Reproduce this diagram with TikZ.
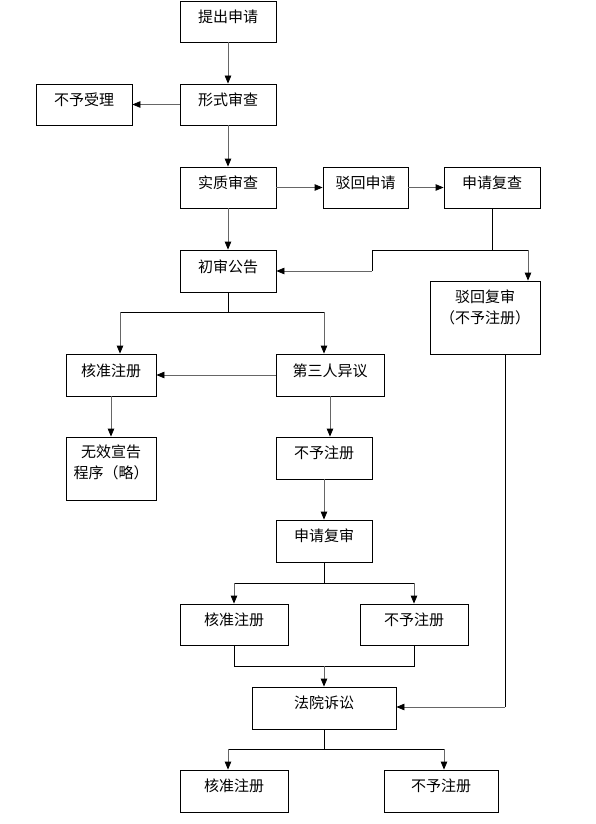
\documentclass[tikz,border=0pt]{standalone}
\usepackage{fontspec}
\newfontfamily\cjk{Noto Sans CJK SC}
\usetikzlibrary{arrows.meta}
\tikzset{
  box/.style={draw=black, line width=0.8pt, rectangle, inner sep=0pt, fill=white},
  lbl/.style={anchor=center, inner sep=0pt, align=center, font=\cjk\fontsize{15}{21}\selectfont},
  arr/.style={draw=black!60, line width=0.8pt, -{Triangle[length=8pt,width=6.5pt,color=black]}},
  ln/.style={draw=black, line width=0.8pt},
}
\newcommand{\bx}[6]{% name, x1, y1, x2, y2, text-offset, text
  \node[box, minimum width={#4-#2}, minimum height={#5-#3}] (#1) at ({(#2+#4)/2},{(#3+#5)/2}) {};
}
\begin{document}
\begin{tikzpicture}[x=1pt,y=-1pt]
\useasboundingbox (0,0) rectangle (595,824);
\fill[white] (0,0) rectangle (595,824);
% boxes
\node[box, minimum width=96, minimum height=41, label={[lbl,yshift=-16pt]north:提出申请}] (submit) at (228,21.5) {};
\node[box, minimum width=96, minimum height=41, label={[lbl,yshift=-16pt]north:形式审查}] (form) at (228,104.5) {};
\node[box, minimum width=96, minimum height=41, label={[lbl,yshift=-16pt]north:不予受理}] (noacc) at (84,104.5) {};
\node[box, minimum width=96, minimum height=41, label={[lbl,yshift=-16pt]north:实质审查}] (subst) at (228,187.5) {};
\node[box, minimum width=85, minimum height=41, label={[lbl,yshift=-16pt]north:驳回申请}] (rejapp) at (365.5,187.5) {};
\node[box, minimum width=96, minimum height=41, label={[lbl,yshift=-16pt]north:申请复查}] (recheck) at (492,187.5) {};
\node[box, minimum width=96, minimum height=42, label={[lbl,yshift=-17pt]north:初审公告}] (prelim) at (228,271) {};
\node[box, minimum width=110, minimum height=73, label={[lbl,yshift=-26.5pt]north:驳回复审\\（不予注册）}] (rejrev) at (485,317.5) {};
\node[box, minimum width=90, minimum height=42, label={[lbl,yshift=-17pt]north:核准注册}] (appr1) at (111,375) {};
\node[box, minimum width=108, minimum height=42, label={[lbl,yshift=-17pt]north:第三人异议}] (third) at (330,375) {};
\node[box, minimum width=90, minimum height=63, label={[lbl,yshift=-26pt]north:无效宣告\\程序（略）}] (invalid) at (111,468.5) {};
\node[box, minimum width=96, minimum height=42, label={[lbl,yshift=-16pt]north:不予注册}] (refu1) at (324,458) {};
\node[box, minimum width=96, minimum height=42, label={[lbl,yshift=-16pt]north:申请复审}] (review2) at (324,541) {};
\node[box, minimum width=108, minimum height=41, label={[lbl,yshift=-16pt]north:核准注册}] (appr2) at (234,624.5) {};
\node[box, minimum width=108, minimum height=41, label={[lbl,yshift=-16pt]north:不予注册}] (refu2) at (414,624.5) {};
\node[box, minimum width=144, minimum height=42, label={[lbl,yshift=-16pt]north:法院诉讼}] (court) at (324,708) {};
\node[box, minimum width=108, minimum height=42, label={[lbl,yshift=-16pt]north:核准注册}] (appr3) at (234,791) {};
\node[box, minimum width=114, minimum height=42, label={[lbl,yshift=-16pt]north:不予注册}] (refu3) at (441,791) {};
% straight connectors
\draw[arr] (submit) -- (form);
\draw[arr] (form) -- (noacc);
\draw[arr] (form) -- (subst);
\draw[arr] (subst) -- (rejapp);
\draw[arr] (rejapp) -- (recheck);
\draw[arr] (subst) -- (prelim);
% recheck split
\coordinate (j1) at (492,250);
\coordinate (j2) at (372,250);
\coordinate (j3) at (528,250);
\draw[ln] (recheck.south) -- (j1);
\draw[ln] (j2) -- (j3);
\draw[ln] (j2) -- (j2 |- prelim.east) coordinate (j4);
\draw[arr] (j4) -- (prelim.east);
\draw[arr] (j3) -- (j3 |- rejrev.north);
% prelim split
\coordinate (p1) at (228,312);
\coordinate (p2) at (120,312);
\coordinate (p3) at (324,312);
\draw[ln] (prelim.south) -- (p1);
\draw[ln] (p2) -- (p3);
\draw[arr] (p2) -- (p2 |- appr1.north);
\draw[arr] (p3) -- (p3 |- third.north);
\draw[arr] (third) -- (appr1);
\draw[arr] (appr1) -- (invalid);
\draw[arr] (third.south) -- (third.south |- refu1.north);
\draw[arr] (refu1) -- (review2);
% review2 split
\coordinate (r1) at (324,583);
\coordinate (r2) at (234,583);
\coordinate (r3) at (414,583);
\draw[ln] (review2.south) -- (r1);
\draw[ln] (r2) -- (r3);
\draw[arr] (r2) -- (appr2);
\draw[arr] (r3) -- (refu2);
% merge to court
\coordinate (m1) at (234,666);
\coordinate (m2) at (414,666);
\coordinate (m3) at (324,666);
\draw[ln] (appr2.south) -- (m1) -- (m2) -- (refu2.south);
\draw[arr] (m3) -- (court);
% rejrev to court
\coordinate (c1) at (505,707);
\draw[ln] (rejrev.south -| c1) -- (c1);
\draw[arr] (c1) -- (c1 -| court.east);
% court split
\coordinate (k1) at (324,749);
\coordinate (k2) at (228,749);
\coordinate (k3) at (444,749);
\draw[ln] (court.south) -- (k1);
\draw[ln] (k2) -- (k3);
\draw[arr] (k2) -- (k2 |- appr3.north);
\draw[arr] (k3) -- (k3 |- refu3.north);
\end{tikzpicture}
\end{document}
